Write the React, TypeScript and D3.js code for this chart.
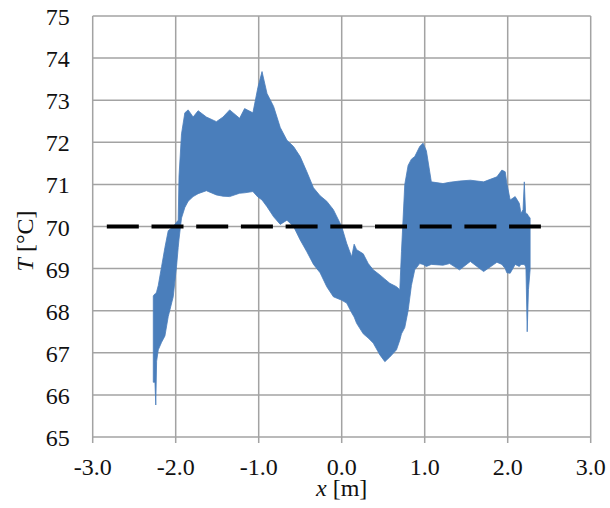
import React from 'react'
import * as d3 from 'd3'

// temperature band: position x [m], upper and lower envelope T [°C]
const bandX = [
  -2.27, -2.25, -2.24, -2.23, -2.21, -2.17, -2.13, -2.09, -2.03, -1.99, -1.97, -1.96, -1.93,
  -1.89, -1.85, -1.79, -1.73, -1.63, -1.51, -1.43, -1.35, -1.23, -1.17, -1.07, -1.01, -0.96,
  -0.9, -0.82, -0.74, -0.66, -0.58, -0.5, -0.42, -0.34, -0.26, -0.18, -0.1, 0.0, 0.06, 0.12,
  0.15, 0.18, 0.26, 0.32, 0.38, 0.46, 0.52, 0.58, 0.66, 0.7, 0.72, 0.76, 0.8, 0.84, 0.88,
  0.94, 0.98, 1.02, 1.08, 1.22, 1.3, 1.42, 1.55, 1.71, 1.87, 1.93, 1.97, 1.99, 2.03, 2.09,
  2.14, 2.16, 2.185, 2.2, 2.215, 2.22, 2.235, 2.25, 2.27
]
const bandHi = [
  68.35, 68.4, 68.4, 68.45, 68.6, 69.05, 69.5, 69.9, 70.0, 70.1, 70.15, 71.2, 72.2,
  72.7, 72.77, 72.6, 72.75, 72.6, 72.49, 72.6, 72.77, 72.57, 72.8, 72.7, 73.3, 73.68,
  73.16, 72.85, 72.35, 72.05, 71.9, 71.66, 71.3, 70.92, 70.73, 70.6, 70.4, 70.0, 69.6, 69.28,
  69.58, 69.45, 69.35, 69.12, 68.97, 68.85, 68.75, 68.65, 68.57, 68.5, 69.4, 71.0, 71.45, 71.6, 71.66,
  71.9, 71.98, 71.8, 71.06, 71.02, 71.05, 71.08, 71.1, 71.06, 71.18, 71.34, 71.3, 71.02, 70.63, 70.71,
  70.55, 70.31, 70.4, 71.06, 70.35, 70.3, 70.3, 70.25, 70.2
]
const bandLo = [
  66.3, 66.3, 65.76, 66.8, 67.07, 67.25, 67.4, 67.86, 68.33, 69.05, 69.5, 69.7, 70.2,
  70.45, 70.6, 70.71, 70.78, 70.85, 70.75, 70.72, 70.71, 70.79, 70.8, 70.83, 70.7, 70.63,
  70.47, 70.23, 70.05, 70.15, 70.0, 69.68, 69.4, 69.1, 68.9, 68.57, 68.33, 68.25, 68.18, 67.95,
  67.85, 67.7, 67.45, 67.35, 67.23, 66.95, 66.79, 66.9, 67.07, 67.3, 67.45, 67.6, 68.0, 68.6, 68.97,
  69.12, 69.1, 69.05, 69.1, 69.08, 69.12, 68.97, 69.17, 68.93, 69.15, 69.1, 69.0, 68.9, 68.89, 69.1,
  69.05, 69.1, 69.1, 69.1, 69.05, 69.0, 67.5, 68.5, 68.97
]

// set-point line
const refX = [-2.83, 2.4]
const refT = 70

const xTicks = [-3, -2, -1, 0, 1, 2, 3]
const yTicks = [65, 66, 67, 68, 69, 70, 71, 72, 73, 74, 75]

const W = 610
const H = 508
const margin = {top: 16, right: 19.3, bottom: 71, left: 92.7}
const font = "'Liberation Serif', 'Times New Roman', serif"

export default function App() {
  const x = d3.scaleLinear().domain([-3, 3]).range([margin.left, W - margin.right])
  const y = d3.scaleLinear().domain([65, 75]).range([H - margin.bottom, margin.top])

  const band = bandX.map((v, i) => ({x: v, hi: bandHi[i], lo: bandLo[i]}))
  const area = d3
    .area<{x: number; hi: number; lo: number}>()
    .x(d => x(d.x))
    .y0(d => y(d.lo))
    .y1(d => y(d.hi))

  const grid = '#a3a3a3'
  const x0 = x(-3)
  const x1 = x(3)
  const y0 = y(65)
  const y1 = y(75)

  return (
    <svg
      width={W}
      height={H}
      style={{position: 'absolute', left: 0, top: 0, background: '#fff', fontFamily: font}}
    >
      <rect width={W} height={H} fill="#fff" />
      {/* grid */}
      {yTicks.map(t => (
        <line key={'gy' + t} x1={x0} x2={x1} y1={y(t)} y2={y(t)} stroke={grid} strokeWidth={1.5} />
      ))}
      {xTicks.map(t => (
        <line key={'gx' + t} x1={x(t)} x2={x(t)} y1={y1} y2={y0 + 6} stroke={grid} strokeWidth={1.5} />
      ))}

      {/* data band */}
      <path d={area(band) || ''} fill="#4a7ebb" stroke="#4a7ebb" strokeWidth={0.8} strokeLinejoin="round" />

      {/* 70 °C reference */}
      <line
        x1={x(refX[0])}
        x2={x(refX[1])}
        y1={y(refT)}
        y2={y(refT)}
        stroke="#000"
        strokeWidth={4}
        strokeDasharray="32 12.7"
      />

      {/* tick labels */}
      {yTicks.map(t => (
        <text key={'ly' + t} x={x0 - 23} y={y(t) + 9} textAnchor="end" fontSize={24} fill="#111">
          {t}
        </text>
      ))}
      {xTicks.map(t => (
        <text key={'lx' + t} x={x(t)} y={y0 + 38} textAnchor="middle" fontSize={24} fill="#111">
          {t.toFixed(1)}
        </text>
      ))}

      {/* axis titles */}
      <text x={x(0)} y={496} textAnchor="middle" fontSize={24} fill="#111">
        <tspan fontStyle="italic">x</tspan> [m]
      </text>
      <text
        transform={`translate(33, ${241}) rotate(-90)`}
        textAnchor="middle"
        fontSize={24}
        fill="#111"
      >
        <tspan fontStyle="italic">T</tspan> [°C]
      </text>
    </svg>
  )
}
